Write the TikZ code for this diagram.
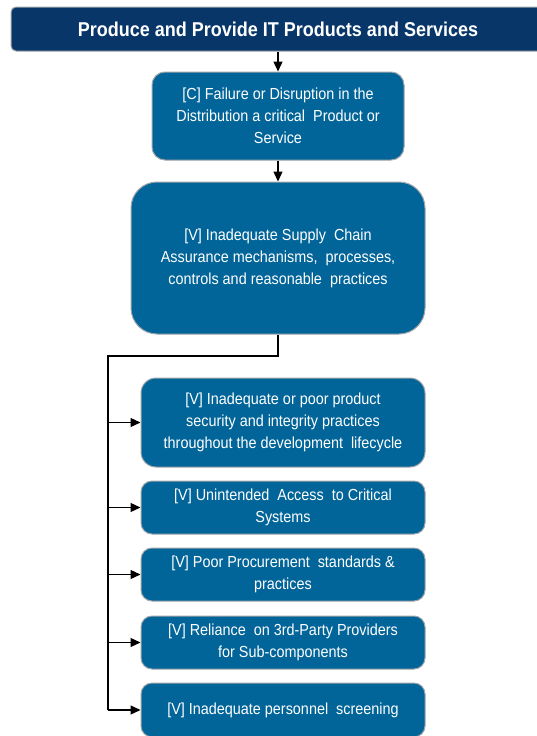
\documentclass[tikz,border=0pt]{standalone}
\usepackage{fontspec}
\setmainfont{Liberation Sans}[FakeStretch=0.9]
\usetikzlibrary{arrows.meta}
\definecolor{navy}{RGB}{8,54,104}
\definecolor{boxblue}{RGB}{2,101,153}
\definecolor{edgegray}{RGB}{160,165,170}
\tikzset{
  titlebox/.style={draw=edgegray, line width=1pt, fill=navy, rounded corners=5pt, text=white, font=\fontsize{20}{24}\selectfont\bfseries, inner sep=0pt, align=center},
  riskbox/.style={draw=edgegray, line width=1pt, fill=boxblue, text=white, font=\fontsize{16}{22}\selectfont, inner sep=0pt, align=center, minimum width=284pt, minimum height=53pt, rounded corners=11pt},
  conn/.style={draw=black, line width=1.6pt},
  arr/.style={draw=black, line width=1.3pt, -{Triangle[length=10pt,width=9pt]}}
}
\begin{document}
\begin{tikzpicture}[x=1pt,y=-1pt]
\useasboundingbox (0,0) rectangle (537,736);
\node[titlebox, minimum width=534pt, minimum height=44pt] (title) at (278,29) {Produce and Provide IT Products and Services};
\node[riskbox, minimum width=252pt, minimum height=88pt, rounded corners=13pt] (c) at (278,116) {[C] Failure or Disruption in the\\Distribution a critical\ \ Product or\\Service};
\node[riskbox, minimum width=294pt, minimum height=152pt, rounded corners=26pt] (main) at (278,258) {[V] Inadequate Supply\ \ Chain\\Assurance mechanisms,\ \ processes,\\controls and reasonable\ \ practices};
\node[riskbox, minimum height=89pt, rounded corners=15pt] (b1) at (283,422.5) {[V] Inadequate or poor product\\security and integrity practices\\throughout the development\ \ lifecycle};
\node[riskbox] (b2) at (283,507.5) {[V] Unintended\ \ Access\ \ to Critical\\Systems};
\node[riskbox] (b3) at (283,574.5) {[V] Poor Procurement\ \ standards \&\\practices};
\node[riskbox] (b4) at (283,642.5) {[V] Reliance\ \ on 3rd-Party Providers\\for Sub-components};
\node[riskbox, minimum height=54pt] (b5) at (283,710) {[V] Inadequate personnel\ \ screening};
\coordinate (j) at (108,356);
\draw[arr] (title.south) -- (c.north);
\draw[arr] (c.south) -- (main.north);
\draw[conn] (main.south) |- (j) -- (j |- b5.west);
\foreach \b in {b1,b2,b3,b4,b5}{
  \draw[arr] (j |- \b.west) -- (\b.west);
}
\end{tikzpicture}
\end{document}
